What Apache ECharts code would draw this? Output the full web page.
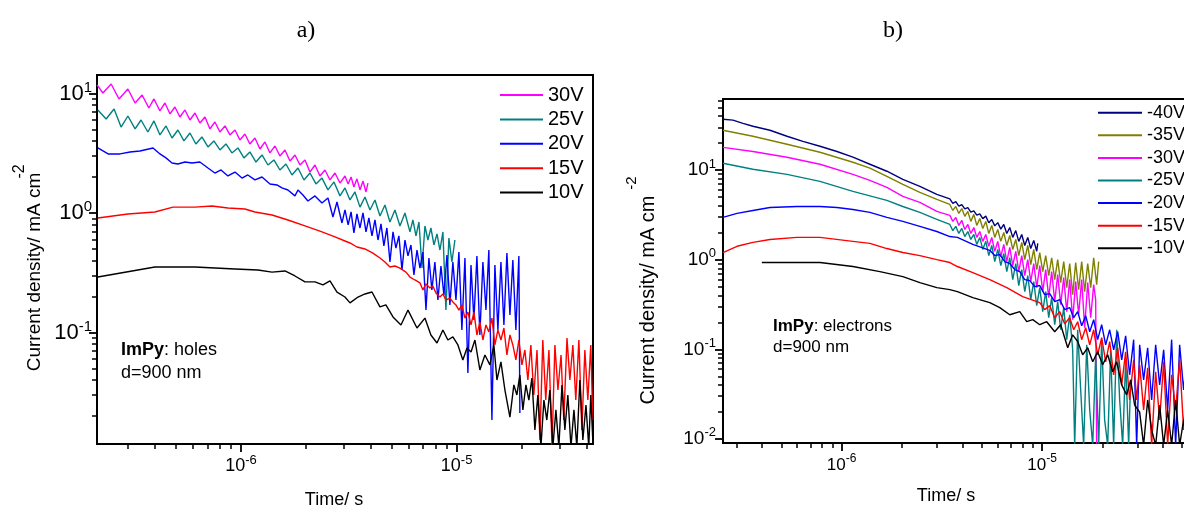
<!DOCTYPE html>
<html>
<head>
<meta charset="utf-8">
<title>ImPy transient currents</title>
<script src="https://cdn.jsdelivr.net/npm/echarts@6/dist/echarts.min.js"></script>
<style>
  html, body { margin: 0; padding: 0; background: #fff; }
  #chart { width: 1184px; height: 511px; }
</style>
</head>
<body>
<div id="chart"></div>
<script>
// panel a) holes, [time s, current density mA/cm2]
const holesNames = ['30V', '25V', '20V', '15V', '10V'];
const holesColors = ['#ff00ff', '#008080', '#0000ff', '#ff0000', '#000000'];
const holes30 = [[2.15e-7,11.8],[2.29e-7,10.1],[2.50e-7,12.0],[2.72e-7,9.0],[2.99e-7,10.9],[3.23e-7,8.33],[3.48e-7,9.72],[3.74e-7,7.56],[3.95e-7,9.0],[4.21e-7,7.14],[4.44e-7,8.33],[4.69e-7,6.74],[4.94e-7,7.71],[5.21e-7,6.36],[5.50e-7,7.28],[5.80e-7,6.0],[6.12e-7,6.87],[6.45e-7,5.66],[6.81e-7,6.36],[7.18e-7,5.05],[7.57e-7,5.77],[7.99e-7,4.76],[8.43e-7,5.35],[8.89e-7,4.5],[9.38e-7,4.95],[9.89e-7,4.08],[1.043e-6,4.58],[1.10e-6,3.78],[1.161e-6,4.24],[1.225e-6,3.43],[1.292e-6,3.93],[1.363e-6,3.18],[1.438e-6,3.64],[1.516e-6,3.0],[1.60e-6,3.37],[1.687e-6,2.72],[1.78e-6,3.06],[1.878e-6,2.52],[1.981e-6,2.78],[2.089e-6,2.2],[2.204e-6,2.52],[2.325e-6,2.04],[2.452e-6,2.29],[2.587e-6,1.89],[2.729e-6,2.16],[2.878e-6,1.78],[3.036e-6,2.04],[3.14e-6,1.75],[3.24e-6,2.0],[3.34e-6,1.65],[3.45e-6,1.93],[3.564e-6,1.56],[3.68e-6,1.85],[3.80e-6,1.50],[3.88e-6,1.78]];
const holes25 = [[2.17e-7,7.28],[2.37e-7,6.12],[2.58e-7,7.42],[2.78e-7,5.24],[2.99e-7,6.48],[3.23e-7,5.05],[3.44e-7,6.0],[3.70e-7,4.76],[3.95e-7,5.89],[4.21e-7,4.5],[4.49e-7,5.35],[4.79e-7,4.24],[5.10e-7,4.95],[5.44e-7,4.01],[5.80e-7,4.67],[6.18e-7,3.78],[6.59e-7,4.33],[7.03e-7,3.57],[7.49e-7,4.01],[7.99e-7,3.37],[8.52e-7,3.78],[9.08e-7,3.18],[9.68e-7,3.5],[1.032e-6,2.89],[1.10e-6,3.24],[1.174e-6,2.67],[1.252e-6,3.06],[1.334e-6,2.52],[1.422e-6,2.78],[1.516e-6,2.29],[1.617e-6,2.57],[1.724e-6,2.08],[1.838e-6,2.38],[1.96e-6,1.89],[2.089e-6,2.16],[2.228e-6,1.75],[2.375e-6,1.96],[2.532e-6,1.56],[2.70e-6,1.82],[2.878e-6,1.39],[3.036e-6,1.62],[3.203e-6,1.285],[3.378e-6,1.5],[3.564e-6,1.12],[3.759e-6,1.36],[3.965e-6,1.06],[4.182e-6,1.285],[4.411e-6,0.944],[4.653e-6,1.167],[4.908e-6,0.841],[5.177e-6,1.06],[5.461e-6,0.779],[5.76e-6,1.0],[6.076e-6,0.694],[6.27e-6,0.874],[6.48e-6,0.643],[6.69e-6,0.841],[6.91e-6,0.346],[7.131e-6,0.779],[7.36e-6,0.594],[7.60e-6,0.749],[7.85e-6,0.54],[8.11e-6,0.668],[8.369e-6,0.49],[8.64e-6,0.694],[8.92e-6,0.154],[9.21e-6,0.617],[9.51e-6,0.389],[9.82e-6,0.594]];
const holes20 = [[2.17e-7,3.5],[2.42e-7,3.12],[2.75e-7,3.12],[3.06e-7,3.24],[3.40e-7,3.3],[3.91e-7,3.5],[4.21e-7,3.12],[4.49e-7,2.89],[4.79e-7,2.62],[5.10e-7,2.57],[5.50e-7,2.67],[5.93e-7,2.62],[6.45e-7,2.67],[7.03e-7,2.38],[7.57e-7,2.16],[8.08e-7,2.29],[8.70e-7,2.04],[9.38e-7,2.2],[1.011e-6,1.96],[1.076e-6,2.08],[1.161e-6,1.89],[1.252e-6,2.0],[1.363e-6,1.75],[1.469e-6,1.716],[1.549e-6,1.62],[1.651e-6,1.558],[1.78e-6,1.39],[1.838e-6,1.558],[1.938e-6,1.415],[2.044e-6,1.26],[2.204e-6,1.39],[2.375e-6,1.21],[2.532e-6,1.335],[2.67e-6,0.925],[2.788e-6,1.236],[2.94e-6,0.825],[3.036e-6,1.06],[3.14e-6,0.794],[3.24e-6,1.02],[3.34e-6,0.681],[3.45e-6,0.981],[3.564e-6,0.749],[3.68e-6,1.0],[3.80e-6,0.694],[3.92e-6,0.908],[4.05e-6,0.643],[4.182e-6,0.874],[4.32e-6,0.594],[4.46e-6,0.81],[4.60e-6,0.53],[4.75e-6,0.749],[4.908e-6,0.389],[5.07e-6,0.694],[5.23e-6,0.509],[5.40e-6,0.643],[5.58e-6,0.333],[5.76e-6,0.594],[5.95e-6,0.437],[6.14e-6,0.54],[6.34e-6,0.303],[6.55e-6,0.49],[6.76e-6,0.346],[6.98e-6,0.471],[7.21e-6,0.154],[7.44e-6,0.42],[7.68e-6,0.227],[7.93e-6,0.389],[8.19e-6,0.187],[8.46e-6,0.36],[8.73e-6,0.206],[9.02e-6,0.445],[9.31e-6,0.17],[9.61e-6,0.389],[9.93e-6,0.187],[1.025e-5,0.471],[1.058e-5,0.105],[1.093e-5,0.42],[1.128e-5,0.0458],[1.166e-5,0.367],[1.203e-5,0.127],[1.242e-5,0.437],[1.282e-5,0.0953],[1.324e-5,0.389],[1.368e-5,0.154],[1.411e-5,0.49],[1.458e-5,0.0185],[1.505e-5,0.367],[1.554e-5,0.105],[1.605e-5,0.389],[1.657e-5,0.1156],[1.711e-5,0.462],[1.767e-5,0.14],[1.823e-5,0.404],[1.883e-5,0.105],[1.944e-5,0.437],[1.965e-5,0.0212]];
const holes15 = [[2.17e-7,0.908],[2.99e-7,0.981],[3.99e-7,1.02],[4.84e-7,1.12],[6.12e-7,1.12],[7.34e-7,1.145],[8.70e-7,1.1],[1.043e-6,1.08],[1.161e-6,1.02],[1.393e-6,0.962],[1.651e-6,0.874],[1.981e-6,0.779],[2.375e-6,0.694],[2.729e-6,0.63],[3.036e-6,0.583],[3.203e-6,0.561],[3.45e-6,0.519],[3.759e-6,0.5],[4.09e-6,0.462],[4.411e-6,0.42],[4.653e-6,0.389],[4.908e-6,0.353],[5.177e-6,0.36],[5.461e-6,0.346],[5.82e-6,0.32],[6.076e-6,0.291],[6.409e-6,0.275],[6.76e-6,0.26],[6.98e-6,0.227],[7.21e-6,0.255],[7.522e-6,0.236],[7.76e-6,0.245],[8.02e-6,0.214],[8.369e-6,0.198],[8.64e-6,0.21],[8.92e-6,0.187],[9.31e-6,0.194],[9.61e-6,0.18],[9.93e-6,0.17],[1.025e-5,0.154],[1.058e-5,0.17],[1.093e-5,0.132],[1.128e-5,0.148],[1.166e-5,0.1156],[1.203e-5,0.148],[1.242e-5,0.0953],[1.282e-5,0.122],[1.324e-5,0.0865],[1.368e-5,0.1156],[1.411e-5,0.101],[1.458e-5,0.132],[1.505e-5,0.0786],[1.554e-5,0.105],[1.605e-5,0.0865],[1.657e-5,0.109],[1.711e-5,0.0648],[1.767e-5,0.0953],[1.823e-5,0.0786],[1.883e-5,0.0589],[1.944e-5,0.0865],[2.008e-5,0.0535],[2.073e-5,0.0714],[2.14e-5,0.04],[2.21e-5,0.0786],[2.28e-5,0.03],[2.36e-5,0.0714],[2.433e-5,0.0126],[2.51e-5,0.0865],[2.59e-5,0.0272],[2.68e-5,0.0714],[2.77e-5,0.0112],[2.856e-5,0.0786],[2.95e-5,0.033],[3.05e-5,0.0648],[3.14e-5,0.0185],[3.25e-5,0.0899],[3.351e-5,0.04],[3.46e-5,0.0786],[3.57e-5,0.0272],[3.69e-5,0.0865],[3.81e-5,0.0153],[3.933e-5,0.0714],[4.06e-5,0.0272],[4.19e-5,0.0786],[4.28e-5,0.0185]];
const holes10 = [[2.17e-7,0.291],[3.99e-7,0.353],[6.12e-7,0.353],[9.38e-7,0.34],[1.199e-6,0.333],[1.393e-6,0.32],[1.6e-6,0.327],[1.78e-6,0.297],[1.981e-6,0.265],[2.204e-6,0.265],[2.4e-6,0.25],[2.587e-6,0.27],[2.788e-6,0.218],[3.036e-6,0.198],[3.203e-6,0.177],[3.49e-6,0.198],[3.759e-6,0.21],[4.05e-6,0.218],[4.411e-6,0.164],[4.7e-6,0.17],[5.07e-6,0.135],[5.52e-6,0.1156],[5.95e-6,0.154],[6.55e-6,0.109],[7.131e-6,0.132],[7.6e-6,0.0953],[8.11e-6,0.0817],[8.64e-6,0.105],[9.11e-6,0.0865],[9.61e-6,0.0917],[1.014e-5,0.0786],[1.069e-5,0.0589],[1.117e-5,0.0742],[1.166e-5,0.0687],[1.216e-5,0.0865],[1.282e-5,0.0486],[1.353e-5,0.0648],[1.427e-5,0.0535],[1.489e-5,0.0786],[1.538e-5,0.04],[1.605e-5,0.0567],[1.675e-5,0.033],[1.767e-5,0.0196],[1.843e-5,0.0364],[1.903e-5,0.03],[1.965e-5,0.0441],[2.029e-5,0.0225],[2.096e-5,0.0364],[2.163e-5,0.0272],[2.234e-5,0.0416],[2.307e-5,0.0153],[2.381e-5,0.03],[2.46e-5,0.011],[2.54e-5,0.0272],[2.62e-5,0.0185],[2.707e-5,0.033],[2.795e-5,0.011],[2.887e-5,0.0225],[2.98e-5,0.011],[3.08e-5,0.0364],[3.177e-5,0.0153],[3.28e-5,0.03],[3.39e-5,0.011],[3.5e-5,0.0225],[3.61e-5,0.011],[3.729e-5,0.04],[3.85e-5,0.0126],[3.98e-5,0.0247],[4.1e-5,0.011],[4.19e-5,0.03],[4.28e-5,0.0126]];

// panel b) electrons
const elecNames = ['-40V', '-35V', '-30V', '-25V', '-20V', '-15V', '-10V'];
const elecColors = ['#000080', '#808000', '#ff00ff', '#008080', '#0000ff', '#ff0000', '#000000'];
const elec40 = [[2.56e-7,36.9],[2.87e-7,36.0],[3.22e-7,33.2],[3.61e-7,30.8],[4.39e-7,27.8],[5.34e-7,23.8],[6.41e-7,20.9],[7.8e-7,18.4],[9.48e-7,16.1],[1.139e-6,13.9],[1.384e-6,11.6],[1.682e-6,9.69],[2.021e-6,7.87],[2.457e-6,6.57],[2.986e-6,5.35],[3.467e-6,4.76],[3.588e-6,4.25],[3.713e-6,4.43],[3.844e-6,3.95],[3.978e-6,4.12],[4.117e-6,3.68],[4.263e-6,3.81],[4.412e-6,3.39],[4.567e-6,3.51],[4.726e-6,3.13],[4.891e-6,3.24],[5.062e-6,2.87],[5.24e-6,3.06],[5.424e-6,2.58],[5.614e-6,2.81],[5.81e-6,2.38],[6.014e-6,2.59],[6.225e-6,2.19],[6.443e-6,2.47],[6.669e-6,1.96],[6.902e-6,2.28],[7.143e-6,1.77],[7.394e-6,2.11],[7.654e-6,1.6],[7.921e-6,1.91],[8.199e-6,1.44],[8.486e-6,1.77],[8.783e-6,1.33],[9.091e-6,1.64],[9.41e-6,1.24],[9.52e-6,1.52]];
const elec35 = [[2.56e-7,27.8],[3.61e-7,23.8],[5.34e-7,19.4],[7.8e-7,15.8],[1.139e-6,12.2],[1.384e-6,10.5],[1.682e-6,8.5],[2.021e-6,6.92],[2.457e-6,5.63],[2.986e-6,4.7],[3.467e-6,4.13],[3.588e-6,3.54],[3.713e-6,3.92],[3.844e-6,3.28],[3.978e-6,3.72],[4.117e-6,3.04],[4.263e-6,3.45],[4.412e-6,2.67],[4.567e-6,3.2],[4.726e-6,2.41],[4.891e-6,2.88],[5.062e-6,2.23],[5.24e-6,2.67],[5.424e-6,1.96],[5.614e-6,2.41],[5.81e-6,1.77],[6.014e-6,2.17],[6.225e-6,1.6],[6.443e-6,2.01],[6.669e-6,1.44],[6.902e-6,1.86],[7.143e-6,1.3],[7.394e-6,1.68],[7.654e-6,1.11],[7.921e-6,1.56],[8.199e-6,1.0],[8.486e-6,1.44],[8.783e-6,0.882],[9.091e-6,1.3],[9.41e-6,0.775],[9.74e-6,1.2],[1.008e-5,0.736],[1.043e-5,1.11],[1.08e-5,0.664],[1.117e-5,1.05],[1.157e-5,0.599],[1.197e-5,1.0],[1.239e-5,0.555],[1.283e-5,0.95],[1.328e-5,0.488],[1.374e-5,0.905],[1.422e-5,0.407],[1.472e-5,0.929],[1.523e-5,0.463],[1.577e-5,0.95],[1.632e-5,0.44],[1.69e-5,0.905],[1.749e-5,0.488],[1.81e-5,1.05],[1.873e-5,0.527],[1.917e-5,0.95]];
const elec30 = [[2.56e-7,17.9],[3.61e-7,16.1],[5.34e-7,13.9],[7.8e-7,11.6],[1.139e-6,8.95],[1.384e-6,7.67],[1.682e-6,6.4],[2.021e-6,5.08],[2.457e-6,4.35],[2.986e-6,3.45],[3.467e-6,3.12],[3.588e-6,2.67],[3.713e-6,2.96],[3.844e-6,2.41],[3.978e-6,2.74],[4.117e-6,2.17],[4.263e-6,2.47],[4.412e-6,1.96],[4.567e-6,2.28],[4.726e-6,1.77],[4.891e-6,2.06],[5.062e-6,1.6],[5.24e-6,1.91],[5.424e-6,1.41],[5.614e-6,1.77],[5.81e-6,1.24],[6.014e-6,1.6],[6.225e-6,1.08],[6.443e-6,1.48],[6.669e-6,0.95],[6.902e-6,1.37],[7.143e-6,0.86],[7.394e-6,1.24],[7.654e-6,0.736],[7.921e-6,1.11],[8.199e-6,0.664],[8.486e-6,1.0],[8.783e-6,0.569],[9.091e-6,0.905],[9.41e-6,0.488],[9.74e-6,0.86],[1.008e-5,0.44],[1.043e-5,0.775],[1.08e-5,0.377],[1.117e-5,0.736],[1.157e-5,0.34],[1.197e-5,0.681],[1.239e-5,0.315],[1.283e-5,0.631],[1.328e-5,0.263],[1.374e-5,0.599],[1.422e-5,0.214],[1.472e-5,0.569],[1.523e-5,0.243],[1.577e-5,0.599],[1.632e-5,0.174],[1.69e-5,0.555],[1.749e-5,0.225],[1.81e-5,0.527],[1.852e-5,0.358],[1.873e-5,0.0085]];
const elec25 = [[2.56e-7,11.9],[3.61e-7,10.2],[5.34e-7,8.95],[7.8e-7,7.47],[1.139e-6,5.78],[1.682e-6,4.58],[2.021e-6,3.92],[2.457e-6,3.37],[2.986e-6,2.81],[3.467e-6,2.47],[3.588e-6,2.11],[3.713e-6,2.35],[3.844e-6,1.96],[3.978e-6,2.23],[4.117e-6,1.81],[4.263e-6,2.06],[4.412e-6,1.68],[4.567e-6,1.91],[4.726e-6,1.48],[4.891e-6,1.77],[5.062e-6,1.3],[5.24e-6,1.6],[5.424e-6,1.11],[5.614e-6,1.44],[5.81e-6,0.95],[6.014e-6,1.3],[6.225e-6,0.86],[6.443e-6,1.17],[6.669e-6,0.736],[6.902e-6,1.05],[7.143e-6,0.599],[7.394e-6,0.905],[7.654e-6,0.514],[7.921e-6,0.775],[8.199e-6,0.44],[8.486e-6,0.664],[8.783e-6,0.358],[9.091e-6,0.569],[9.41e-6,0.307],[9.74e-6,0.488],[1.008e-5,0.263],[1.043e-5,0.44],[1.08e-5,0.225],[1.117e-5,0.377],[1.157e-5,0.188],[1.197e-5,0.34],[1.239e-5,0.165],[1.283e-5,0.292],[1.328e-5,0.128],[1.374e-5,0.243],[1.422e-5,0.0988],[1.455e-5,0.0085],[1.506e-5,0.165],[1.559e-5,0.0352],[1.613e-5,0.0085],[1.671e-5,0.112],[1.729e-5,0.021],[1.79e-5,0.0085],[1.852e-5,0.0868],[1.917e-5,0.0085],[1.984e-5,0.128],[2.053e-5,0.0163],[2.126e-5,0.0085],[2.2e-5,0.0988],[2.277e-5,0.0085],[2.357e-5,0.165],[2.44e-5,0.0272],[2.525e-5,0.0085],[2.613e-5,0.0763],[2.705e-5,0.0085],[2.768e-5,0.0456]];
const elec20 = [[2.56e-7,2.96],[3.007e-7,3.28],[3.61e-7,3.54],[4.39e-7,3.82],[5.99e-7,3.92],[7.8e-7,3.92],[9.48e-7,3.82],[1.139e-6,3.63],[1.384e-6,3.37],[1.682e-6,2.96],[2.021e-6,2.67],[2.457e-6,2.35],[2.986e-6,2.06],[3.467e-6,1.81],[3.782e-6,1.77],[4.515e-6,1.48],[5.487e-6,1.27],[5.81e-6,1.11],[6.154e-6,1.14],[6.517e-6,0.95],[6.902e-6,0.905],[7.31e-6,0.775],[7.742e-6,0.736],[8.199e-6,0.599],[8.683e-6,0.584],[9.195e-6,0.5],[9.74e-6,0.514],[1.031e-5,0.407],[1.092e-5,0.418],[1.157e-5,0.34],[1.225e-5,0.358],[1.297e-5,0.277],[1.374e-5,0.292],[1.439e-5,0.225],[1.506e-5,0.263],[1.577e-5,0.183],[1.651e-5,0.237],[1.729e-5,0.157],[1.81e-5,0.214],[1.895e-5,0.128],[1.984e-5,0.188],[2.077e-5,0.112],[2.175e-5,0.165],[2.277e-5,0.0988],[2.385e-5,0.157],[2.497e-5,0.0763],[2.613e-5,0.141],[2.736e-5,0.0519],[2.865e-5,0.128],[2.966e-5,0.0085],[3.069e-5,0.112],[3.213e-5,0.0456],[3.365e-5,0.104],[3.523e-5,0.0272],[3.689e-5,0.112],[3.862e-5,0.0401],[4.044e-5,0.0988],[4.234e-5,0.021],[4.432e-5,0.128],[4.641e-5,0.0085],[4.859e-5,0.112],[5.087e-5,0.0352],[5.326e-5,0.0988]];
const elec15 = [[2.56e-7,1.2],[3.007e-7,1.41],[3.61e-7,1.56],[4.39e-7,1.68],[5.99e-7,1.77],[7.8e-7,1.77],[1.139e-6,1.6],[1.384e-6,1.52],[1.682e-6,1.33],[2.021e-6,1.2],[2.457e-6,1.11],[2.986e-6,1.0],[3.467e-6,0.929],[3.782e-6,0.838],[4.515e-6,0.717],[5.487e-6,0.599],[6.669e-6,0.488],[8.01e-6,0.387],[9.74e-6,0.332],[1.031e-5,0.277],[1.092e-5,0.307],[1.157e-5,0.225],[1.225e-5,0.263],[1.297e-5,0.193],[1.374e-5,0.225],[1.439e-5,0.165],[1.506e-5,0.203],[1.577e-5,0.128],[1.651e-5,0.174],[1.729e-5,0.112],[1.81e-5,0.165],[1.895e-5,0.0868],[1.984e-5,0.135],[2.077e-5,0.0725],[2.175e-5,0.122],[2.277e-5,0.0519],[2.385e-5,0.104],[2.497e-5,0.0401],[2.613e-5,0.0938],[2.736e-5,0.0272],[2.865e-5,0.0763],[2.966e-5,0.0272],[3.069e-5,0.0671],[3.213e-5,0.021],[3.365e-5,0.0621],[3.523e-5,0.0085],[3.689e-5,0.056],[3.862e-5,0.0163],[4.044e-5,0.0725],[4.234e-5,0.0085],[4.432e-5,0.0519],[4.641e-5,0.021],[4.859e-5,0.0763],[5.087e-5,0.0126],[5.326e-5,0.059]];
const elec10 = [[4.0e-7,0.929],[5.34e-7,0.929],[7.8e-7,0.929],[1.139e-6,0.838],[1.552e-6,0.736],[2.021e-6,0.647],[2.457e-6,0.555],[2.986e-6,0.488],[3.467e-6,0.463],[3.782e-6,0.44],[4.515e-6,0.377],[5.487e-6,0.332],[6.154e-6,0.292],[6.902e-6,0.243],[7.742e-6,0.263],[8.389e-6,0.203],[8.987e-6,0.214],[9.74e-6,0.188],[1.055e-5,0.203],[1.157e-5,0.157],[1.239e-5,0.188],[1.343e-5,0.104],[1.422e-5,0.145],[1.506e-5,0.122],[1.595e-5,0.0868],[1.69e-5,0.104],[1.79e-5,0.0725],[1.895e-5,0.0938],[2.007e-5,0.0671],[2.126e-5,0.0868],[2.251e-5,0.056],[2.357e-5,0.0725],[2.497e-5,0.0401],[2.644e-5,0.031],[2.768e-5,0.0456],[2.897e-5,0.0239],[3.069e-5,0.0199],[3.213e-5,0.0085],[3.365e-5,0.0272],[3.523e-5,0.0126],[3.689e-5,0.0085],[3.862e-5,0.0239],[4.044e-5,0.0085],[4.234e-5,0.021],[4.432e-5,0.0085],[4.641e-5,0.0272],[4.859e-5,0.0085],[5.087e-5,0.0163],[5.326e-5,0.0085]];

// axis ranges, labelled ticks and the small in-between ticks
const timeRangeA = [2.15e-7, 4.29e-5];
const currRangeA = [0.01166, 14.28];
const timeRangeB = [2.56e-7, 6.0e-5];
const currRangeB = [0.009, 62];
const timeTicks = [1e-6, 1e-5];
const currTicksA = [0.1, 1, 10];
const currTicksB = [0.01, 0.1, 1, 10];
const minorTimeA = [3e-7, 4e-7, 5e-7, 6e-7, 7e-7, 8e-7, 9e-7, 2e-6, 3e-6, 4e-6, 5e-6, 6e-6, 7e-6, 8e-6, 9e-6, 2e-5, 3e-5, 4e-5];
const minorTimeB = [3e-7, 4e-7, 5e-7, 6e-7, 7e-7, 8e-7, 9e-7, 2e-6, 3e-6, 4e-6, 5e-6, 6e-6, 7e-6, 8e-6, 9e-6, 2e-5, 3e-5, 4e-5, 5e-5];
const minorCurrA = [0.02, 0.03, 0.04, 0.05, 0.06, 0.07, 0.08, 0.09, 0.2, 0.3, 0.4, 0.5, 0.6, 0.7, 0.8, 0.9, 2, 3, 4, 5, 6, 7, 8, 9];
const minorCurrB = [0.02, 0.03, 0.04, 0.05, 0.06, 0.07, 0.08, 0.09, 0.2, 0.3, 0.4, 0.5, 0.6, 0.7, 0.8, 0.9, 2, 3, 4, 5, 6, 7, 8, 9, 20, 30, 40, 50, 60];

const FONT = '"Liberation Sans", Arial, sans-serif';
const SERIF = '"Liberation Serif", "Times New Roman", serif';

function powLabel(v) {
  return '10{s|' + Math.round(Math.log10(v)) + '}';
}

function logAxis(gridIndex, range, ticks, isX, margin, size) {
  return {
    type: 'log',
    logBase: 10,
    gridIndex: gridIndex,
    min: range[0],
    max: range[1],
    position: isX ? 'bottom' : 'left',
    axisLine: { show: true, lineStyle: { color: '#000', width: 2 } },
    axisTick: { show: true, length: 8, customValues: ticks, lineStyle: { color: '#000', width: 1.8 } },
    axisLabel: {
      customValues: ticks,
      formatter: powLabel,
      margin: margin,
      color: '#000',
      fontSize: size,
      fontFamily: FONT,
      rich: {
        s: { fontSize: Math.round(size * 0.7), fontFamily: FONT, color: '#000', verticalAlign: 'top', padding: [0, 0, 12, 0] }
      }
    },
    splitLine: { show: false }
  };
}

// second axis on the same side, only for the short 2..9 ticks
function minorAxis(gridIndex, range, ticks, isX) {
  return {
    type: 'log',
    logBase: 10,
    gridIndex: gridIndex,
    min: range[0],
    max: range[1],
    position: isX ? 'bottom' : 'left',
    axisLine: { show: false },
    axisLabel: { show: false },
    axisTick: { show: true, length: 5, customValues: ticks, lineStyle: { color: '#000', width: 1.5 } },
    splitLine: { show: false }
  };
}

function makeSeries(names, colors, datas, gi) {
  return names.map((name, i) => ({
    name: name,
    type: 'line',
    data: datas[i],
    xAxisIndex: gi,
    yAxisIndex: gi,
    showSymbol: false,
    symbol: 'none',
    color: colors[i],
    lineStyle: { color: colors[i], width: 1.4 },
    clip: true,
    emphasis: { disabled: true }
  }));
}

function plainText(x, y, text, size, family, rot) {
  return {
    type: 'text', x: x, y: y, rotation: rot || 0, silent: true,
    style: { text: text, fontSize: size, fontFamily: family, fill: '#000', align: 'center', verticalAlign: 'middle' }
  };
}

function noteText(x, y, text, size, lh) {
  return {
    type: 'text', x: x, y: y, silent: true,
    style: {
      text: text, fontSize: size, fontFamily: FONT, fill: '#000', lineHeight: lh,
      align: 'left', verticalAlign: 'top',
      rich: { b: { fontSize: size, fontFamily: FONT, fontWeight: 'bold', fill: '#000', lineHeight: lh } }
    }
  };
}

const chart = echarts.init(document.getElementById('chart'));
chart.setOption({
  animation: false,
  backgroundColor: '#fff',
  grid: [
    { left: 97, top: 75, right: 591, bottom: 67, show: true, borderColor: '#000', borderWidth: 2, outerBoundsMode: 'none' },
    { left: 723, top: 99, right: -14, bottom: 68, show: true, borderColor: '#000', borderWidth: 2, outerBoundsMode: 'none' }
  ],
  xAxis: [
    logAxis(0, timeRangeA, timeTicks, true, 10, 18),
    logAxis(1, timeRangeB, timeTicks, true, 10, 17),
    minorAxis(0, timeRangeA, minorTimeA, true),
    minorAxis(1, timeRangeB, minorTimeB, true)
  ],
  yAxis: [
    logAxis(0, currRangeA, currTicksA, false, 5, 22),
    logAxis(1, currRangeB, currTicksB, false, 7, 19),
    minorAxis(0, currRangeA, minorCurrA, false),
    minorAxis(1, currRangeB, minorCurrB, false)
  ],
  legend: [
    {
      data: holesNames, orient: 'vertical', left: 500, top: 85, padding: 0,
      itemWidth: 43, itemHeight: 2, itemGap: 4.4, icon: 'rect', selectedMode: false,
      textStyle: { fontSize: 20, lineHeight: 20, fontFamily: FONT, color: '#000' }
    },
    {
      data: elecNames, orient: 'vertical', left: 1098, top: 103.7, padding: 0,
      itemWidth: 44, itemHeight: 2, itemGap: 4.6, icon: 'rect', selectedMode: false,
      textStyle: { fontSize: 18, lineHeight: 18, fontFamily: FONT, color: '#000' }
    }
  ],
  graphic: [
    plainText(306, 31, 'a)', 24, SERIF),
    plainText(893, 31, 'b)', 24, SERIF),
    plainText(334, 500, 'Time/ s', 18, FONT),
    plainText(946, 496, 'Time/ s', 18, FONT),
    plainText(35, 272, 'Current density/ mA cm', 19, FONT, Math.PI / 2),
    plainText(20, 171.5, '-2', 16, FONT, Math.PI / 2),
    plainText(648, 300, 'Current density/ mA cm', 20, FONT, Math.PI / 2),
    plainText(632, 183, '-2', 15, FONT, Math.PI / 2),
    noteText(121, 339, '{b|ImPy}: holes\nd=900 nm', 18, 23),
    noteText(773, 315.5, '{b|ImPy}: electrons\nd=900 nm', 17, 21)
  ],
  series: makeSeries(holesNames, holesColors, [holes30, holes25, holes20, holes15, holes10], 0)
    .concat(makeSeries(elecNames, elecColors, [elec40, elec35, elec30, elec25, elec20, elec15, elec10], 1))
});
</script>
</body>
</html>
